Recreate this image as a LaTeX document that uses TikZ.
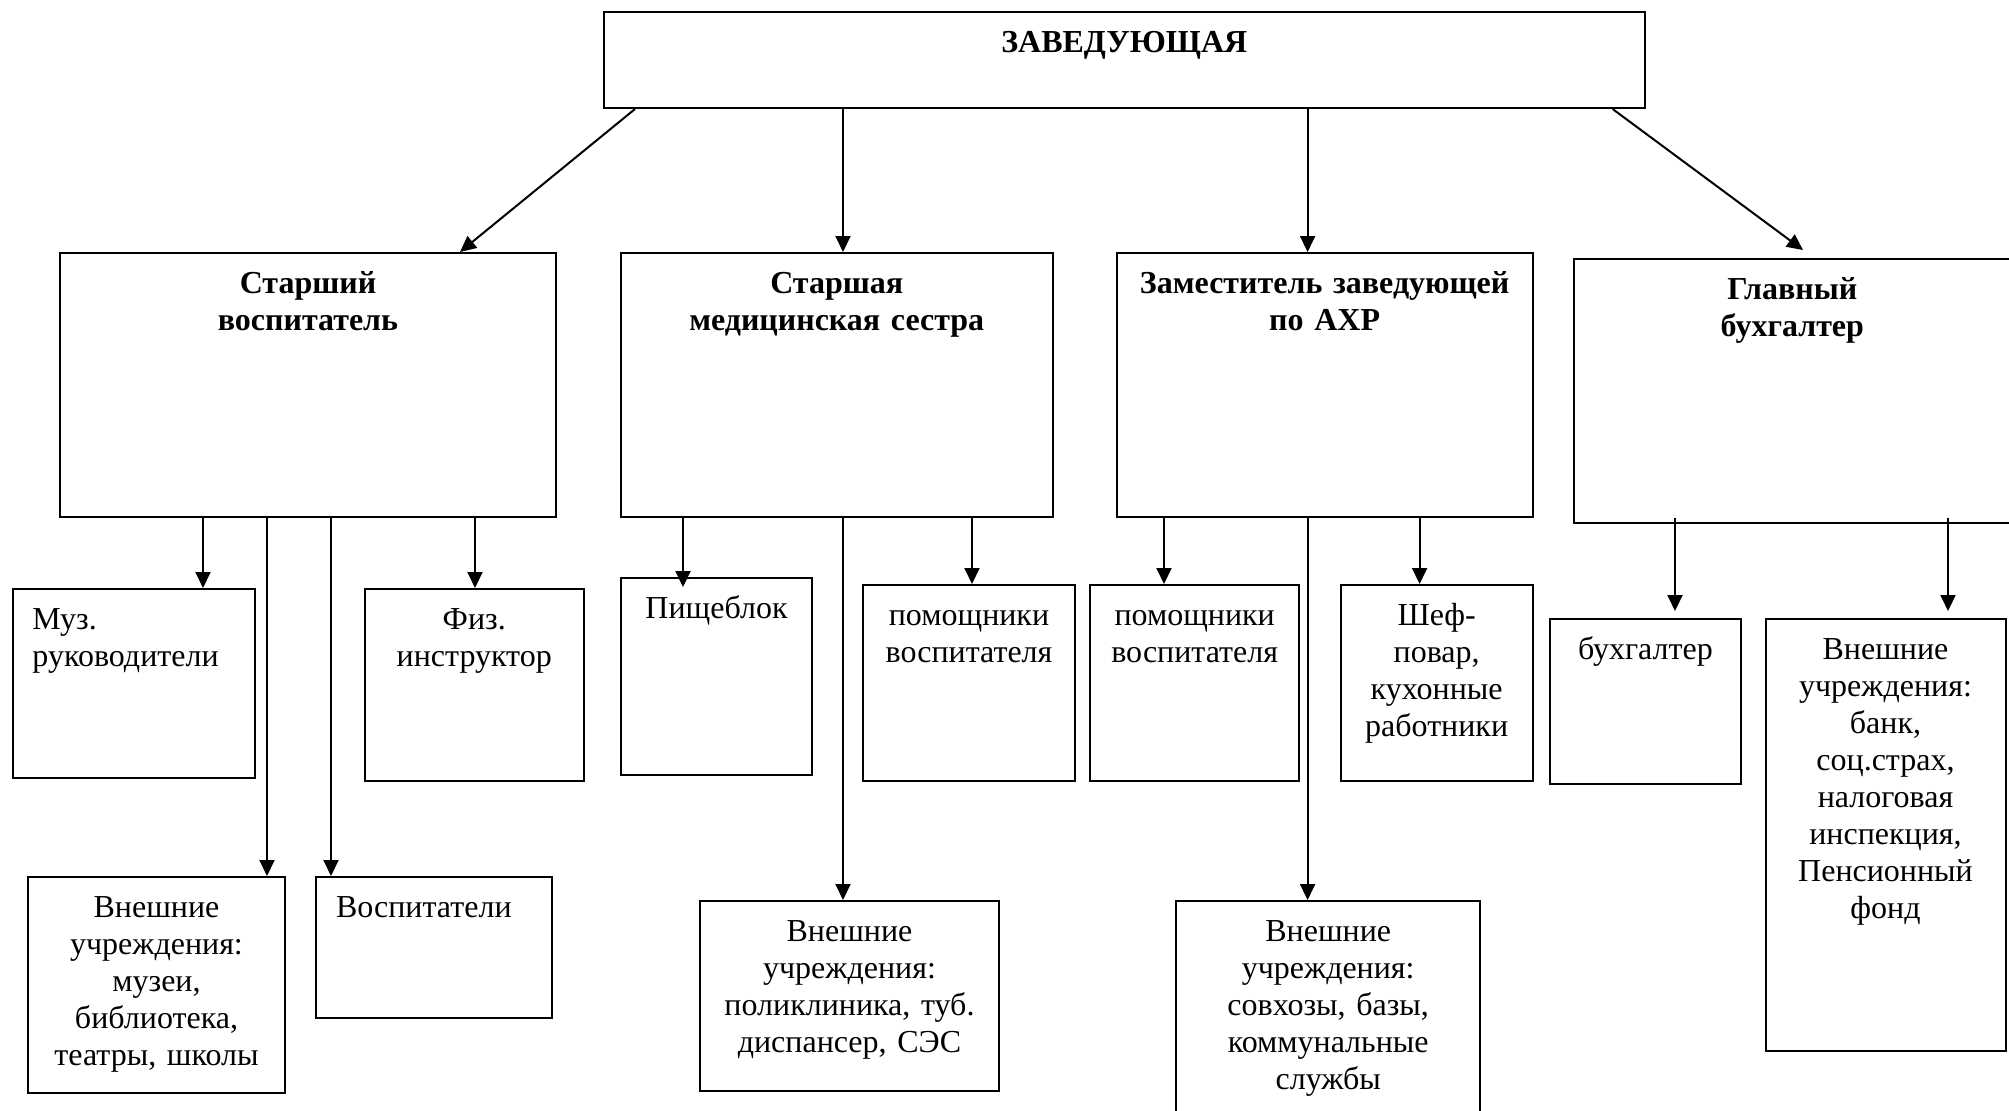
\documentclass[tikz,border=0pt]{standalone}
\usepackage{fontspec}
\setmainfont{Liberation Serif}
\usetikzlibrary{arrows.meta,calc}

\begin{document}
\begin{tikzpicture}[x=0.5pt, y=-0.5pt,
  box/.style = {draw, line width=1pt, anchor=north west, inner xsep=0pt, inner ysep=0pt,
                text height=20pt, align=center, font=\fontsize{16}{18.5}\selectfont},
  head/.style = {box, font=\fontsize{16}{18.5}\selectfont\bfseries},
  lbox/.style = {box, align=left, inner xsep=10pt},
  arr/.style = {line width=1pt, -{Triangle[length=8pt,width=7.5pt]}}]
  \useasboundingbox (0,0) rectangle (2009,1110);
  % top
  \node[head, text width=520.25pt, text depth=28pt] (zav) at (603,11) {ЗАВЕДУЮЩАЯ};
  % second row
  \node[head, text width=248pt, text depth=112pt] (stvos) at (59,252) {Старший\\воспитатель};
  \node[head, text width=215.75pt, text depth=112pt] (stmed) at (620,252) {Старшая\\медицинская сестра};
  \node[head, text width=207.85pt, text depth=112pt] (zam) at (1115.8,252) {Заместитель заведующей\\по АХР};
  \node[head, text width=218.65pt, text depth=112pt] (glbuh) at (1572.7,258) {Главный\\бухгалтер};
  % third row
  \node[lbox, text width=101.25pt, text depth=74.5pt] (muz) at (11.5,588) {Муз.\\руководители};
  \node[box, text width=109.75pt, text depth=76pt] (fiz) at (363.5,588) {Физ.\\инструктор};
  \node[box, text width=95.5pt, text depth=78.5pt] (pish) at (620,577) {Пищеблок};
  \node[box, text width=106pt, text depth=78pt] (pom1) at (862,584) {помощники\\воспитателя};
  \node[box, text width=104.3pt, text depth=78pt] (pom2) at (1089.4,584) {помощники\\воспитателя};
  \node[box, text width=95.85pt, text depth=78pt] (shef) at (1339.8,584) {Шеф-\\повар,\\кухонные\\работники};
  \node[box, text width=95.55pt, text depth=62.5pt] (buh) at (1548.9,618) {бухгалтер};
  \node[box, text width=120pt, text depth=196pt] (vn4) at (1764.5,618) {Внешние\\учреждения:\\банк,\\соц.страх,\\налоговая\\инспекция,\\Пенсионный\\фонд};
  % bottom row
  \node[box, text width=128.5pt, text depth=88pt] (vn1) at (27,876) {Внешние\\учреждения:\\музеи,\\библиотека,\\театры, школы};
  \node[lbox, text width=98pt, text depth=50.5pt] (vosp) at (315,876) {Воспитатели};
  \node[box, text width=149.5pt, text depth=75pt] (vn2) at (699,900) {Внешние\\учреждения:\\поликлиника, туб.\\диспансер, СЭС};
  \node[box, text width=152.2pt, text depth=88pt] (vn3) at (1175,900) {Внешние\\учреждения:\\совхозы, базы,\\коммунальные\\службы};
  % arrows from the top
  \draw[arr] (zav.south -| 635,0) -- (stvos.north -| 460,0);
  \draw[arr] (zav.south -| 843,0) -- (stmed.north -| 843,0);
  \draw[arr] (zav.south -| 1307.6,0) -- (zam.north -| 1307.6,0);
  \draw[arr] (zav.south -| 1612.6,0) -- ($(glbuh.north -| 1803,0)+(0,-8)$);
  % arrows below
  \draw[arr] (stvos.south -| 203,0) -- (muz.north -| 203,0);
  \draw[arr] (stvos.south -| 267,0) -- (vn1.north -| 267,0);
  \draw[arr] (stvos.south -| 331,0) -- (vosp.north -| 331,0);
  \draw[arr] (stvos.south -| 475,0) -- (fiz.north -| 475,0);
  \draw[arr] (stmed.south -| 683,0) -- ($(pish.north -| 683,0)+(0,10)$);
  \draw[arr] (stmed.south -| 843,0) -- (vn2.north -| 843,0);
  \draw[arr] (stmed.south -| 972,0) -- (pom1.north -| 972,0);
  \draw[arr] (zam.south -| 1164,0) -- (pom2.north -| 1164,0);
  \draw[arr] (zam.south -| 1307.6,0) -- (vn3.north -| 1307.6,0);
  \draw[arr] (zam.south -| 1419.6,0) -- (shef.north -| 1419.6,0);
  \draw[arr] ($(glbuh.south -| 1675,0)+(0,-6)$) -- ($(buh.north -| 1675,0)+(0,-7)$);
  \draw[arr] ($(glbuh.south -| 1948,0)+(0,-6)$) -- ($(vn4.north -| 1948,0)+(0,-7)$);
\end{tikzpicture}
\end{document}
